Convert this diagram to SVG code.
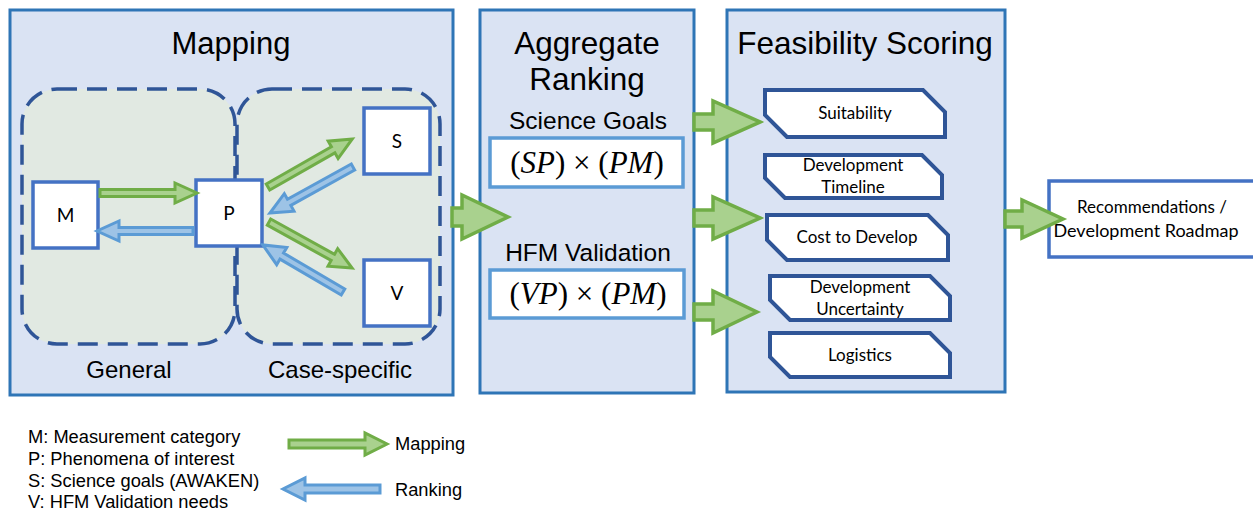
<svg xmlns="http://www.w3.org/2000/svg" width="1253" height="512" viewBox="0 0 1253 512">
  <defs>
    <style>
      .panel{fill:#DAE3F3;stroke:#2E75B6;stroke-width:3}
      .zone{fill:#E1E9E2;stroke:#2F5597;stroke-width:3.5;stroke-dasharray:20 10}
      .node{fill:#fff;stroke:#4472C4;stroke-width:3.5}
      .formula{fill:#fff;stroke:#5B9BD5;stroke-width:3.5}
      .crit{fill:#fff;stroke:#2F5597;stroke-width:4}
      .out{fill:#fff;stroke:#4472C4;stroke-width:3.5}
      .map{fill:#A9D18E;stroke:#70AD47;stroke-width:3}
      .rank{fill:#9DC3E6;stroke:#5B9BD5;stroke-width:3}
      .big{fill:#A9D18E;stroke:#70AD47;stroke-width:3.5}
      .h{font-family:"Liberation Sans",Arial,sans-serif;fill:#000;text-anchor:middle}
      .c{font-family:Lato,"Open Sans",sans-serif;fill:#000;text-anchor:middle}
      .lg{font-family:"Liberation Sans",Arial,sans-serif;fill:#000;font-size:18.3px}
      .m{font-family:"Liberation Serif","Times New Roman",serif;font-size:31px;fill:#000;text-anchor:middle}
      .it{font-style:italic}
    </style>
  </defs>

  <!-- Mapping stage -->
  <g id="mapping">
    <rect class="panel" x="10" y="10" width="443" height="385"/>
    <text class="h" x="231" y="54" font-size="31">Mapping</text>
    <rect class="zone" x="22" y="89" width="213" height="255" rx="35"/>
    <rect class="zone" x="237" y="89" width="203" height="255" rx="35"/>
    <text class="h" x="129" y="378" font-size="24">General</text>
    <text class="h" x="340" y="378" font-size="24">Case-specific</text>
  </g>
  <g id="node-M">
    <rect class="node" x="33" y="182" width="65" height="66"/>
    <text class="c" x="65.5" y="222" font-size="19">M</text>
  </g>
  <g id="node-P">
    <rect class="node" x="196" y="180" width="66" height="66"/>
    <text class="c" x="229" y="220" font-size="19">P</text>
  </g>
  <g id="node-S">
    <rect class="node" x="364" y="108" width="66" height="66"/>
    <text class="c" x="397" y="148" font-size="19">S</text>
  </g>
  <g id="node-V">
    <rect class="node" x="364" y="260" width="66" height="66"/>
    <text class="c" x="397" y="300" font-size="19">V</text>
  </g>

  <!-- Aggregate ranking stage -->
  <g id="aggregate">
    <rect class="panel" x="480" y="10" width="214" height="383"/>
    <text class="h" x="587" y="54" font-size="31.5">Aggregate</text>
    <text class="h" x="587" y="90" font-size="31.5">Ranking</text>
    <text class="h" x="588" y="129" font-size="24.5">Science Goals</text>
    <rect class="formula" x="490" y="138" width="193" height="49"/>
    <text class="m" x="587" y="173">(<tspan class="it">SP</tspan>) × (<tspan class="it">PM</tspan>)</text>
    <text class="h" x="588" y="261" font-size="24.5">HFM Validation</text>
    <rect class="formula" x="490" y="270" width="194" height="48"/>
    <text class="m" x="588" y="304">(<tspan class="it">VP</tspan>) × (<tspan class="it">PM</tspan>)</text>
  </g>

  <!-- Feasibility scoring stage -->
  <g id="feasibility">
    <rect class="panel" x="727" y="10" width="278" height="382"/>
    <text class="h" x="865" y="54" font-size="31.5">Feasibility Scoring</text>
  </g>
  <g id="crit-suitability">
    <path class="crit" d="M765,90 H923 L945,112 V137 H787 L765,115 Z"/>
    <text class="c" x="855" y="119" font-size="17">Suitability</text>
  </g>
  <g id="crit-timeline">
    <path class="crit" d="M765,155 H922 L942,175 V198 H785 L765,178 Z"/>
    <text class="c" x="853" y="171" font-size="17">Development</text>
    <text class="c" x="853" y="193" font-size="17">Timeline</text>
  </g>
  <g id="crit-cost">
    <path class="crit" d="M767,215 H928 L948,235 V260 H787 L767,240 Z"/>
    <text class="c" x="857" y="243" font-size="17">Cost to Develop</text>
  </g>
  <g id="crit-uncertainty">
    <path class="crit" d="M770,276 H930 L950,296 V320 H790 L770,300 Z"/>
    <text class="c" x="860" y="293" font-size="17">Development</text>
    <text class="c" x="860" y="315" font-size="17">Uncertainty</text>
  </g>
  <g id="crit-logistics">
    <path class="crit" d="M770,333 H930 L950,353 V377 H790 L770,357 Z"/>
    <text class="c" x="860" y="361" font-size="17">Logistics</text>
  </g>

  <!-- Output -->
  <g id="recommendations">
    <rect class="out" x="1049" y="181" width="215" height="76"/>
    <text class="c" x="1152" y="213" font-size="17">Recommendations /</text>
    <text class="c" x="1146" y="237" font-size="18">Development Roadmap</text>
  </g>

  <!-- Connectors -->
  <g id="connectors">
    <!-- mapping (green) and ranking (blue) links inside the mapping stage -->
    <polygon class="map" transform="translate(100,193)" points="0,-3.5 75,-3.5 75,-10 97,0 75,10 75,3.5 0,3.5"/>
    <polygon class="rank" transform="translate(193,231) rotate(180)" points="0,-3.5 74,-3.5 74,-10 96,0 74,10 74,3.5 0,3.5"/>
    <polygon class="map" transform="translate(268,187) rotate(-29.7)" points="0,-3.5 75,-3.5 75,-10 97,0 75,10 75,3.5 0,3.5"/>
    <polygon class="rank" transform="translate(353,167) rotate(151)" points="0,-3.5 73,-3.5 73,-10 95,0 73,10 73,3.5 0,3.5"/>
    <polygon class="map" transform="translate(269,222) rotate(29)" points="0,-3.5 73,-3.5 73,-10 95,0 73,10 73,3.5 0,3.5"/>
    <polygon class="rank" transform="translate(343,292) rotate(210.4)" points="0,-3.5 71,-3.5 71,-10 93,0 71,10 71,3.5 0,3.5"/>

    <!-- stage-to-stage flow arrows -->
    <polygon class="big" points="452,208 462,208 462,195 508,217 462,239 462,226 452,226"/>
    <polygon class="big" points="694,114 713,114 713,101 760,122 713,143 713,130 694,130"/>
    <polygon class="big" points="694,210 713,210 713,197 760,218 713,239 713,226 694,226"/>
    <polygon class="big" points="694,304 713,304 713,291 757,312 713,333 713,320 694,320"/>
    <polygon class="big" points="1005,211 1022,211 1022,200 1063,219 1022,238 1022,227 1005,227"/>
  </g>

  <!-- Legend -->
  <g id="legend">
    <text class="lg" x="28" y="443">M: Measurement category</text>
    <text class="lg" x="28" y="465">P: Phenomena of interest</text>
    <text class="lg" x="28" y="487">S: Science goals (AWAKEN)</text>
    <text class="lg" x="28" y="508">V: HFM Validation needs</text>
    <polygon class="map" transform="translate(289,444)" points="0,-4 76,-4 76,-11 98,0 76,11 76,4 0,4"/>
    <text class="lg" x="395" y="450">Mapping</text>
    <polygon class="rank" transform="translate(380,489) rotate(180)" points="0,-4 75,-4 75,-11 97,0 75,11 75,4 0,4"/>
    <text class="lg" x="395" y="496">Ranking</text>
  </g>
</svg>
